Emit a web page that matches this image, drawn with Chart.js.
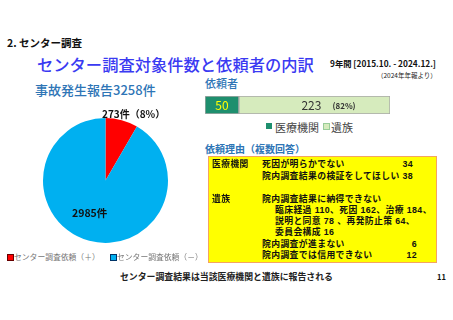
<!DOCTYPE html>
<html><head><meta charset="utf-8">
<script src="https://cdn.jsdelivr.net/npm/chart.js@4.4.1/dist/chart.umd.min.js"></script>
<style>
html,body{margin:0;padding:0;background:#fff;width:453px;height:320px;overflow:hidden;font-family:"Noto Sans CJK JP","Noto Sans",sans-serif;}
.t{position:absolute;white-space:nowrap;line-height:1;transform:translateY(-50%);}
.sq{position:absolute;}
#box{position:absolute;left:207.5px;top:156px;width:227px;height:105px;background:#ffff00;border:1px solid #f4a460;}
.r{position:absolute;white-space:nowrap;line-height:1;transform:translateY(-50%);font-family:"Liberation Sans","Noto Sans CJK JP",sans-serif;font-size:8.8px;letter-spacing:0.4px;font-weight:bold;color:#111;}
</style></head><body>
<div class="t" style="left:7px;top:43px;font-size:10.5px;font-weight:bold;color:#111;">2. センター調査</div>
<div class="t" style="left:37px;top:64px;font-size:16.3px;font-weight:500;color:#3a3af2;">センター調査対象件数と依頼者の内訳</div>
<div class="t" style="left:330px;top:63px;font-size:8.3px;font-weight:bold;color:#111;">9年間 [2015.10. - 2024.12.]</div>
<div class="t" style="left:377px;top:75px;font-size:6.5px;color:#222;">（2024年年報より）</div>
<div class="t" style="left:35px;top:89px;font-size:13px;font-weight:500;color:#2e75b6;">事故発生報告3258件</div>
<div class="t" style="left:205px;top:83px;font-size:11px;font-weight:500;color:#2e75b6;">依頼者</div>
<div class="t" style="left:205px;top:149px;font-size:10px;font-weight:bold;color:#2e75b6;">依頼理由（複数回答）</div>

<div style="position:absolute;left:42px;top:117px;width:127px;height:127px;"><canvas id="pie" width="127" height="127"></canvas></div>
<div class="t" id="lblA" style="left:102px;top:114px;font-size:10px;font-weight:bold;color:#111;"></div>
<div class="t" id="lblB" style="left:72px;top:213px;font-size:10.5px;font-weight:bold;color:#111;"></div>

<div class="sq" style="left:7px;top:254px;width:5px;height:5px;background:#ff0000;border:0.5px solid #600;"></div>
<div class="t" id="legA" style="left:14px;top:256.5px;font-size:7.8px;color:#777;"></div>
<div class="sq" style="left:110px;top:254px;width:5px;height:5px;background:#00b0f0;border:0.5px solid #036;"></div>
<div class="t" id="legB" style="left:117px;top:256.5px;font-size:7.8px;color:#777;"></div>

<div style="position:absolute;left:205px;top:96px;width:185px;height:18px;"><canvas id="bar" width="185" height="18"></canvas></div>
<div class="sq" style="left:266px;top:123px;width:6px;height:6px;background:#1e8f6e;"></div>
<div class="t" id="bl1" style="left:275px;top:127px;font-size:11px;color:#444;"></div>
<div class="sq" style="left:323px;top:123px;width:5px;height:5px;background:#d6ebbd;border:0.5px solid #9c9;"></div>
<div class="t" id="bl2" style="left:331px;top:127px;font-size:11px;color:#444;"></div>

<div id="box"></div>
<div id="reasons"></div>

<div class="t" style="left:120px;top:276.5px;font-size:8.9px;font-weight:bold;color:#222;">センター調査結果は当該医療機関と遺族に報告される</div>
<div class="t" style="left:437px;top:277px;font-size:7.5px;font-weight:bold;color:#111;">11</div>

<script>
// ---- data ----
const pieLabels = ["センター調査依頼（＋）", "センター調査依頼（－）"];
const pieValues = [273, 2985];
const pieColors = ["#ff0000", "#00b0f0"];

const requesterLabels = ["医療機関", "遺族"];
const requesterValues = [50, 223];
const requesterColors = ["#1e8f6e", "#d6ebbd"];

const medicalReasons = [["死因が明らかでない", 34], ["院内調査結果の検証をしてほしい", 38]];
const familyHeader = "院内調査結果に納得できない";
const familyDetailLines = ["臨床経過 110、死因 162、治療 184、", "説明と同意 78 、再発防止策 64、", "委員会構成 16"];
const familyReasons = [["院内調査が進まない", 6], ["院内調査では信用できない", 12]];

// ---- text from data ----
const pieTotal = pieValues.reduce((a,b)=>a+b,0);
document.getElementById('lblA').textContent = pieValues[0] + "件（" + Math.round(pieValues[0]/pieTotal*100) + "%）";
document.getElementById('lblB').textContent = pieValues[1] + "件";
document.getElementById('legA').textContent = pieLabels[0];
document.getElementById('legB').textContent = pieLabels[1];
document.getElementById('bl1').textContent = requesterLabels[0];
document.getElementById('bl2').textContent = requesterLabels[1];

// reasons box
const R = document.getElementById('reasons');
function addText(txt, left, top, right){
  const d = document.createElement('div'); d.className='r'; d.textContent = txt;
  if (right !== undefined) { d.style.right = (453-right)+'px'; } else { d.style.left = left+'px'; }
  d.style.top = top+'px'; R.appendChild(d);
}
addText(requesterLabels[0], 212, 163.5);
addText(medicalReasons[0][0], 262, 163.5); addText(String(medicalReasons[0][1]), 0, 163.5, 413);
addText(medicalReasons[1][0], 262, 175.5); addText(String(medicalReasons[1][1]), 0, 175.5, 413);
addText(requesterLabels[1], 212, 198.5);
addText(familyHeader, 262, 198.5);
addText(familyDetailLines[0], 275, 209.5);
addText(familyDetailLines[1], 275, 220.5);
addText(familyDetailLines[2], 275, 232);
addText(familyReasons[0][0], 262, 244); addText(String(familyReasons[0][1]), 0, 244, 417);
addText(familyReasons[1][0], 262, 255); addText(String(familyReasons[1][1]), 0, 255, 417);

// ---- pie ----
new Chart(document.getElementById('pie'), {
  type: 'pie',
  data: { labels: pieLabels, datasets: [{ data: pieValues, backgroundColor: pieColors, borderWidth: 0 }] },
  options: { responsive: false, animation: false, events: [], layout: { padding: 1 },
    plugins: { legend: { display: false }, tooltip: { enabled: false } } }
});

// ---- stacked bar ----
const reqTotal = requesterValues.reduce((a,b)=>a+b,0);
const barLabelsPlugin = {
  id: 'barLabels',
  afterDatasetsDraw(chart) {
    const ctx = chart.ctx;
    ctx.save();
    ctx.textBaseline = 'middle';
    chart.data.datasets.forEach((ds, i) => {
      const el = chart.getDatasetMeta(i).data[0];
      const cx = (el.x + el.base) / 2, cy = el.y + 0.5;
      const v = ds.data[0];
      if (i === 0) {
        ctx.fillStyle = '#ffff00'; ctx.textAlign = 'center';
        ctx.font = '12px "Noto Sans CJK JP", sans-serif';
        ctx.fillText(String(v), cx, cy);
      } else {
        ctx.fillStyle = '#333'; ctx.textAlign = 'center';
        ctx.font = '12px "Noto Sans CJK JP", sans-serif';
        ctx.fillText(String(v), cx - 3, cy);
        ctx.textAlign = 'left';
        ctx.font = 'bold 8px "Noto Sans CJK JP", sans-serif';
        ctx.fillText('(' + Math.round(v / reqTotal * 100) + '%)', cx + 18, cy + 0.5);
      }
    });
    ctx.restore();
  }
};
new Chart(document.getElementById('bar'), {
  type: 'bar',
  data: { labels: [''], datasets: requesterValues.map((v, i) => ({
    label: requesterLabels[i], data: [v], backgroundColor: requesterColors[i],
    borderColor: '#a8a8a8', borderWidth: 1, borderSkipped: false,
    barPercentage: 1, categoryPercentage: 1 })) },
  options: { indexAxis: 'y', responsive: false, animation: false, events: [],
    layout: { padding: 0 },
    scales: { x: { stacked: true, display: false, min: 0, max: reqTotal }, y: { stacked: true, display: false } },
    plugins: { legend: { display: false }, tooltip: { enabled: false } } },
  plugins: [barLabelsPlugin]
});
</script>
</body></html>
